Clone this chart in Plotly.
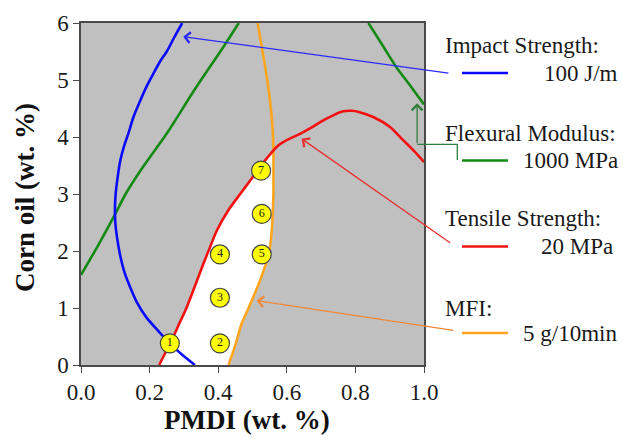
import numpy as np
import plotly.graph_objects as go

# ---------------- data ----------------
blue_x = [0.332, 0.295, 0.26, 0.225, 0.19, 0.163, 0.143, 0.127, 0.115, 0.106, 0.100, 0.099,
          0.101, 0.107, 0.115, 0.126, 0.138, 0.153, 0.170, 0.190, 0.210, 0.230, 0.250, 0.272, 0.295]
blue_y = [0.0, 0.18, 0.37, 0.60, 0.84, 1.10, 1.37, 1.62, 1.90, 2.20, 2.50, 2.75,
          3.00, 3.30, 3.60, 3.85, 4.06, 4.35, 4.60, 4.87, 5.10, 5.32, 5.50, 5.75, 6.0]

green1_x = [0.0, 0.05, 0.10, 0.13, 0.18, 0.25, 0.33, 0.415, 0.46]
green1_y = [1.58, 2.10, 2.65, 3.0, 3.47, 4.06, 4.82, 5.58, 6.0]
green2_x = [0.838, 0.88, 0.92, 0.96, 1.0]
green2_y = [6.0, 5.6, 5.22, 4.9, 4.57]

orange_x = [0.43, 0.45, 0.468, 0.485, 0.502, 0.518, 0.532, 0.543, 0.551, 0.556, 0.559, 0.561,
            0.561, 0.561, 0.558, 0.551, 0.543, 0.535, 0.525, 0.515]
orange_y = [0.0, 0.35, 0.72, 0.95, 1.19, 1.42, 1.65, 1.85, 2.07, 2.35, 2.65, 3.0,
            3.4, 3.8, 4.2, 4.64, 5.0, 5.3, 5.65, 6.0]

red_x = [0.228, 0.243, 0.26, 0.283, 0.308, 0.333, 0.357, 0.377, 0.396, 0.43, 0.464, 0.495,
         0.522, 0.545, 0.575, 0.605, 0.64, 0.67, 0.70, 0.735, 0.765, 0.79, 0.81,
         0.852, 0.90, 0.94, 0.97, 1.0]
red_y = [0.0, 0.18, 0.37, 0.68, 1.01, 1.40, 1.78, 2.08, 2.36, 2.72, 3.0, 3.25,
         3.47, 3.65, 3.85, 3.96, 4.06, 4.16, 4.27, 4.38, 4.45, 4.46, 4.44,
         4.35, 4.18, 3.94, 3.76, 3.56]

# intersection of tensile (red) and MFI (orange) limits
cross_x, cross_y = 0.561, 3.77

sample_x = [0.259, 0.405, 0.405, 0.405, 0.527, 0.527, 0.525]
sample_y = [0.38, 0.38, 1.18, 1.94, 1.94, 2.65, 3.41]
sample_labels = ["1", "2", "3", "4", "5", "6", "7"]

x_ticks = [0.0, 0.2, 0.4, 0.6, 0.8, 1.0]
y_ticks = [0, 1, 2, 3, 4, 5, 6]

legend_titles = ["Impact Strength:", "Flexural Modulus:", "Tensile Strength:", "MFI:"]
legend_values = ["100 J/m", "1000 MPa", "20 MPa", "5 g/10min"]

# ---------------- styles ----------------
C_BLUE = "#0a0aff"
C_GREEN = "#138a13"
C_RED = "#f21010"
C_ORANGE = "#ffa51f"
FONT = "Liberation Serif"

W, H = 623, 438
ML, MR, MT, MB = 81, 199, 23, 73
PW, PH = W - ML - MR, H - MT - MB


def px(xp):
    return (xp - ML) / PW


def py(yp):
    return (H - MB - yp) / PH


fig = go.Figure()

# feasible (white) window: rising part of red limit, then MFI limit back down
rx, ry = np.array(red_x), np.array(red_y)
ox, oy = np.array(orange_x), np.array(orange_y)
mr = rx < cross_x
mo = oy < cross_y
poly_x = list(rx[mr]) + [cross_x] + list(ox[mo][::-1])
poly_y = list(ry[mr]) + [cross_y] + list(oy[mo][::-1])
fig.add_trace(go.Scatter(x=poly_x, y=poly_y, mode="lines", fill="toself",
                         fillcolor="white", line=dict(width=0, color="white"),
                         hoverinfo="skip", showlegend=False))

lw = 2.6
for xs, ys, col in [(green1_x, green1_y, C_GREEN), (green2_x, green2_y, C_GREEN),
                    (blue_x, blue_y, C_BLUE), (orange_x, orange_y, C_ORANGE),
                    (red_x, red_y, C_RED)]:
    fig.add_trace(go.Scatter(x=xs, y=ys, mode="lines",
                             line=dict(color=col, width=lw, shape="spline", smoothing=0.8),
                             showlegend=False, hoverinfo="skip"))

fig.add_trace(go.Scatter(x=sample_x, y=sample_y, mode="markers+text",
                         text=sample_labels, textposition="middle center",
                         textfont=dict(family=FONT, size=12, color="#222"),
                         marker=dict(size=19, color="#ffff00", line=dict(color="#444", width=1.2)),
                         showlegend=False, hoverinfo="skip", cliponaxis=False))

annotations = []
shapes = []

# legend block
title_rows = [45, 133, 218, 308]
value_rows = [73, 160.5, 246.5, 333]
value_right = [620, 620, 615, 619]
colors = [C_BLUE, C_GREEN, C_RED, C_ORANGE]
for t, v, ty, vy, vr, c in zip(legend_titles, legend_values, title_rows, value_rows, value_right, colors):
    annotations.append(dict(text=t, xref="paper", yref="paper", x=px(443), y=py(ty),
                            xanchor="left", yanchor="middle", showarrow=False,
                            font=dict(family=FONT, size=23, color="#1a1a1a")))
    annotations.append(dict(text=v, xref="paper", yref="paper", x=px(vr), y=py(vy),
                            xanchor="right", yanchor="middle", showarrow=False,
                            font=dict(family=FONT, size=23, color="#1a1a1a")))
    shapes.append(dict(type="line", xref="paper", yref="paper", x0=px(462), x1=px(508),
                       y0=py(vy), y1=py(vy), line=dict(color=c, width=2.6)))

# pointer arrows (tip in data units, tail as pixel offset)
arrows = [
    (0.298, 5.76, 266.7, 36.7, "#2a2aff"),
    (0.643, 3.97, 150.0, 105.0, "#e83030"),
    (0.512, 1.13, 198.3, 30.0, "#f0883a"),
    (0.980, 4.59, 0.0, 41.3, "#2f7f3f"),
]
for ax_, ay_, dx, dy, c in arrows:
    annotations.append(dict(x=ax_, y=ay_, xref="x", yref="y", ax=dx, ay=dy, text="",
                            showarrow=True, arrowhead=4, arrowsize=1.6, arrowwidth=1.3,
                            arrowcolor=c, standoff=0, startstandoff=0))
# green elbow connector
shapes.append(dict(type="path", xref="paper", yref="paper",
                   path=f"M{px(457.3)},{py(160)} L{px(457.3)},{py(144.3)} L{px(417.3)},{py(144.3)}",
                   line=dict(color="#2f7f3f", width=1.3)))

# axis titles
annotations.append(dict(text="<b>PMDI (wt. %)</b>", xref="paper", yref="paper",
                        x=px(247), y=py(420), xanchor="center", yanchor="middle", showarrow=False,
                        font=dict(family=FONT, size=27, color="#111")))
annotations.append(dict(text="<b>Corn oil (wt. %)</b>", xref="paper", yref="paper",
                        x=px(25), y=py(198), xanchor="center", yanchor="middle", showarrow=False,
                        textangle=-90, font=dict(family=FONT, size=27, color="#111")))

axis_common = dict(showgrid=False, zeroline=False, showline=True, mirror=True,
                   linecolor="#4a4a4a", linewidth=1.5, ticks="outside", ticklen=6,
                   tickcolor="#4a4a4a", tickwidth=1.2,
                   tickfont=dict(family=FONT, size=23, color="#1a1a1a"))

fig.update_layout(
    width=W, height=H,
    margin=dict(l=ML, r=MR, t=MT, b=MB, pad=0),
    paper_bgcolor="white", plot_bgcolor="#c0c0c0",
    xaxis=dict(range=[0, 1], tickvals=x_ticks, tickformat=".1f", **axis_common),
    yaxis=dict(range=[0, 6], tickvals=y_ticks, **axis_common),
    annotations=annotations, shapes=shapes,
    showlegend=False,
)

fig.write_html("out.html")
